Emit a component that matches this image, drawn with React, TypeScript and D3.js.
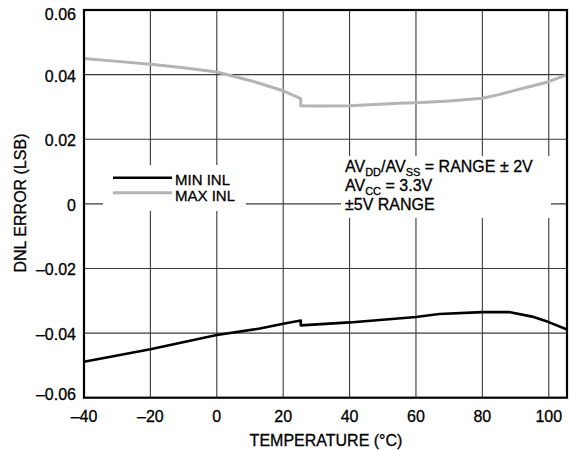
import React from "react";
import * as d3 from "d3";

const tempMax = [-40, -30, -20, -10, 0, 10, 20, 25.3, 25.3, 30, 40, 55, 60, 70, 80, 85, 90, 95, 100, 105.5];
const maxInl = [0.0450, 0.0441, 0.0432, 0.0421, 0.0408, 0.0382, 0.0350, 0.0326, 0.0304, 0.0303, 0.0304, 0.0311, 0.0313, 0.0318, 0.0327, 0.0338, 0.0352, 0.0365, 0.0378, 0.0400];

const tempMin = [-40, -20, 0, 13, 20, 25.3, 25.3, 40, 60, 67, 80, 88, 95, 100, 105.5];
const minInl = [-0.0489, -0.0450, -0.0406, -0.0386, -0.0371, -0.0361, -0.0376, -0.0367, -0.0350, -0.0341, -0.0335, -0.0335, -0.0349, -0.0366, -0.0389];

const xTicks = [-40, -20, 0, 20, 40, 60, 80, 100];
const yTicks = [-0.06, -0.04, -0.02, 0, 0.02, 0.04, 0.06];
const yTickLabels = ["\u20130.06", "\u20130.04", "\u20130.02", "0", "0.02", "0.04", "0.06"];
const xTickLabels = ["\u201340", "\u201320", "0", "20", "40", "60", "80", "100"];
const seriesNames = ["MIN INL", "MAX INL"];

const W = 570, H = 450;
const L = 84, R = 567, T = 10, B = 397.7;
const FONT = "'Liberation Sans', Arial, Helvetica, sans-serif";

export default function App() {
  const x = d3.scaleLinear().domain([-40, 105.5]).range([L, R]);
  const y = d3.scaleLinear().domain([-0.06, 0.06]).range([B, T]);
  const line = d3.line<[number, number]>().x(d => x(d[0])).y(d => y(d[1]));
  const maxPts = tempMax.map((t, i) => [t, maxInl[i]] as [number, number]);
  const minPts = tempMin.map((t, i) => [t, minInl[i]] as [number, number]);
  const gridColor = "#3a3a3a";
  const ts = { fill: "#000", stroke: "#000", strokeWidth: 0.3 };

  return (
    <svg width={W} height={H} style={{ position: "absolute", left: 0, top: 0, background: "#fff" }} fontFamily={FONT}>
      <rect x={0} y={0} width={W} height={H} fill="#fff" />
      {xTicks.filter(t => t > -40).map(t => (
        <line key={"gx" + t} x1={x(t)} x2={x(t)} y1={T} y2={B} stroke={gridColor} strokeWidth={1.1} />
      ))}
      {yTicks.filter(t => t > -0.06 && t < 0.06).map(t => (
        <line key={"gy" + t} x1={L} x2={R} y1={y(t)} y2={y(t)} stroke={gridColor} strokeWidth={1.1} />
      ))}
      <rect x={103} y={165} width={143} height={46} fill="#fff" />
      <rect x={341} y={156} width={210} height={62} fill="#fff" />
      <path d={line(maxPts) || ""} fill="none" stroke="#b4b4b4" strokeWidth={3} strokeLinejoin="round" />
      <path d={line(minPts) || ""} fill="none" stroke="#000" strokeWidth={2.6} strokeLinejoin="round" />
      <rect x={L} y={T} width={R - L} height={B - T} fill="none" stroke="#000" strokeWidth={2.2} />
      {yTicks.map((t, i) => (
        <text key={"yl" + t} x={76} y={Math.max(T + 9.5, Math.min(B + 2.5, y(t) + 7))} textAnchor="end" fontSize={16} {...ts}>
          {yTickLabels[i]}
        </text>
      ))}
      {xTicks.map((t, i) => (
        <text key={"xl" + t} x={x(t)} y={B + 24.5} textAnchor="middle" fontSize={16} {...ts}>
          {xTickLabels[i]}
        </text>
      ))}
      <text x={326} y={446} textAnchor="middle" fontSize={16} {...ts}>TEMPERATURE (°C)</text>
      <text transform="translate(26,203) rotate(-90)" textAnchor="middle" fontSize={16} {...ts}>DNL ERROR (LSB)</text>
      <line x1={113} x2={172} y1={177.7} y2={177.7} stroke="#000" strokeWidth={2.6} />
      <line x1={113} x2={172} y1={192.7} y2={192.7} stroke="#b4b4b4" strokeWidth={3} />
      <text x={175} y={185} fontSize={15} {...ts}>{seriesNames[0]}</text>
      <text x={175} y={200.5} fontSize={15} {...ts}>{seriesNames[1]}</text>
      <text x={345} y={172} fontSize={16} {...ts}>
        AV<tspan fontSize={11} dy={4}>DD</tspan><tspan dy={-4}>/AV</tspan><tspan fontSize={11} dy={4}>SS</tspan><tspan dy={-4}> = RANGE ± 2V</tspan>
      </text>
      <text x={345} y={191} fontSize={16} {...ts}>
        AV<tspan fontSize={11} dy={4}>CC</tspan><tspan dy={-4}> = 3.3V</tspan>
      </text>
      <text x={345} y={210} fontSize={16} {...ts}>±5V RANGE</text>
    </svg>
  );
}
